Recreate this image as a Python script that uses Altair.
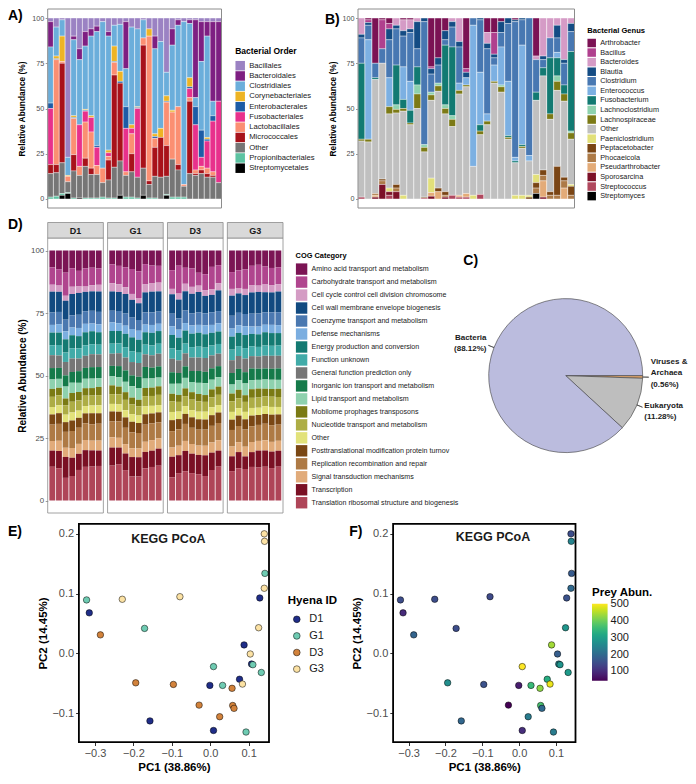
import math
import altair as alt
import pandas as pd

FONT = "Liberation Sans"
TICK_GREY = "#4D4D4D"

# ---------------- Panel A : Bacterial Order ----------------
a_samples = [f"A{i:02d}" for i in range(1, 31)]
a_orders = ["Bacillales", "Bacteroidales", "Clostridiales", "Corynebacteriales", "Enterobacterales",
            "Fusobacteriales", "Lactobacillales", "Micrococcales", "Other", "Propionibacteriales",
            "Streptomycetales"]
a_colors = ["#9B82C3", "#7E1F82", "#6BAEDB", "#EDB425", "#1D5CA6", "#E8318C",
            "#FB8F72", "#A8121A", "#767676", "#5DC3A2", "#000000"]
a_bacillales = [2, 5, 1, 77, 10, 17, 7.5, 6, 4.5, 2, 7.5, 4, 3.5, 2, 5, 6, 1, 6, 10, 13, 30, 6, 1, 2, 1, 1, 2, 2, 2, 2]
a_bacteroidales = [14, 0, 0, 0, 2, 6, 8, 4, 3, 0, 2.5, 0, 0, 26, 0, 0, 0, 0, 7, 0, 0, 9, 3, 0, 2, 43, 22, 8, 44, 44]
a_clostridiales = [31, 16, 9, 10, 42, 36, 35, 44, 63, 81, 63, 11.5, 26, 21, 54, 43, 10, 0, 47, 48, 13, 36, 45, 90, 30, 5, 38, 56, 8, 0]
a_coryne = [0, 1.5, 14, 0.5, 1, 0, 0.5, 1, 0, 0, 1.5, 8.5, 5.5, 0, 2, 0.5, 0, 4, 1.5, 5, 3, 1, 0, 0, 5, 0, 0, 1, 0, 0]
a_entero = [3, 0.5, 0, 0, 0.5, 0, 0.5, 0, 1, 0, 0, 0.5, 1, 12, 0, 0.5, 0, 0, 1, 0, 0.5, 0, 0, 0, 1, 10, 15, 1, 3, 0]
a_fuso = [31, 0, 0, 0, 0, 23, 6, 8, 10, 0, 2, 0, 0, 24, 3, 38, 0, 0, 0, 0, 0, 0, 0, 0, 5, 25, 5, 15, 28, 45]
a_lacto = [0, 58, 1, 3, 20, 5, 20, 20, 5, 8, 2, 7, 0, 2, 11, 0, 4, 80, 5, 0, 24, 26, 32, 1, 2, 2, 2, 3, 2, 0]
a_micro = [5, 4.5, 55, 0, 9, 0, 4.5, 3.5, 0, 0, 11, 51, 43, 0, 10, 0, 68, 2, 16, 22, 17, 0, 3, 0, 40, 1, 2, 2, 1, 0]
a_other = [13, 13, 17, 6, 15, 12.5, 17.5, 13, 13, 8, 10, 17, 19, 12, 14, 11.5, 15, 7.5, 12, 12, 10, 21, 15, 6, 14, 13, 14, 12, 12, 9]
a_propioni = [1, 1.5, 1, 0.5, 0.5, 0, 0.5, 0.5, 0.5, 1, 0.5, 0.5, 0, 1, 1, 0.5, 0, 0.5, 0.5, 0, 0.5, 1, 1, 1, 0, 0, 0, 0, 0, 0]
a_strepto = [0, 0, 2, 3, 0, 0.5, 0, 0, 0, 0, 0, 0, 2, 0, 0, 0, 2, 0, 0, 0, 2, 0, 0, 0, 0, 0, 0, 0, 0, 0]
a_series = [a_bacillales, a_bacteroidales, a_clostridiales, a_coryne, a_entero, a_fuso,
            a_lacto, a_micro, a_other, a_propioni, a_strepto]

# ---------------- Panel B : Bacterial Genus ----------------
b_samples = [f"B{i:02d}" for i in range(1, 32)]
b_genera = ["Arthrobacter", "Bacillus", "Bacteroides", "Blautia", "Clostridium", "Enterococcus",
            "Fusobacterium", "Lachnoclostridium", "Lachnospiraceae", "Other", "Paeniclostridium",
            "Peptacetobacter", "Phocaeicola", "Pseudarthrobacter", "Sporosarcina", "Streptococcus",
            "Streptomyces"]
b_colors = ["#7B1254", "#B0408E", "#D59BC6", "#144C84", "#4878B2", "#7CB0E2", "#127A72",
            "#8ED2AE", "#7C7A16", "#C0C0C0", "#E2E07A", "#7A4514", "#AD7A47", "#E3AB78",
            "#7C1128", "#B0485E", "#000000"]
b_arthro = [0, 1, 25, 1, 3, 0, 1, 1, 0, 0, 27, 22, 7, 0, 0, 28, 0, 0, 8, 8, 2, 0, 1, 0, 0, 21, 0, 0, 0, 0, 0]
b_bacillus = [0, 1.5, 0, 16, 3, 0, 0, 0, 0, 0, 1, 0, 0, 0, 0, 2, 0, 0, 0, 12, 0, 0, 0, 0, 0, 0, 0, 0, 0, 0, 0]
b_bacteroides = [9, 0, 0, 0, 0, 4, 6, 5, 2, 0, 0, 0, 0, 2, 13, 0, 0, 0, 6, 0, 0, 0, 0, 0, 0, 2, 21, 11, 4, 23, 3]
b_blautia = [2, 1.5, 0, 0, 6, 2, 3, 2, 15, 2, 3, 4, 5, 3, 3, 3, 0, 1, 3, 2, 6, 3, 1, 1, 0, 0, 2, 0, 7, 2, 4.5]
b_clostridium = [14, 8, 8, 8, 21, 20, 17, 27, 10, 68, 10, 10, 3, 11, 20, 0, 4, 29, 36, 4, 8, 32, 75, 14, 76, 18, 4.5, 11, 8, 12, 11]
b_enterococcus = [0, 55, 0, 0, 16, 0, 18, 16, 0, 0, 0, 0, 0, 0, 4, 4, 78, 29, 4, 9, 21, 30, 2, 55, 3, 0, 0, 0, 3, 0, 0]
b_fusobacterium = [42, 0, 1, 0, 0, 22, 5, 7, 10, 0, 0, 0, 33, 38, 0, 0, 0, 3.5, 0, 0, 0, 1, 1, 1, 0, 4.5, 4.5, 31, 10, 5, 44]
b_lachnoclost = [0, 0, 0, 0, 0, 2.5, 0, 0, 5, 1.5, 1.5, 1.5, 2, 2, 0, 0, 0, 0, 0, 0, 1, 0, 0, 0, 0, 0, 0, 0, 3, 0, 1]
b_lachnosp = [1, 1.5, 0, 0, 4, 2, 1.5, 1, 8, 2.5, 3, 3, 3, 4, 2, 1, 0, 2, 2, 1, 3, 1, 0, 1, 0, 0, 0, 3, 5, 4, 3.5]
b_other = [31, 31.5, 63, 64, 41, 39.5, 46.5, 41, 50, 25, 43, 53.5, 43, 38, 56, 59, 16, 33, 41, 64, 59, 33, 18, 26, 19, 41, 52, 40, 42, 42, 25]
b_paeni = [0, 0, 0, 0, 2, 0, 2, 0, 0, 0, 8, 0, 0, 0, 0, 0, 2, 0, 0, 0, 0, 0, 2, 2, 1, 4.5, 0, 0, 0, 0, 1]
b_peptac = [0, 0, 0, 1, 0, 2, 0, 0, 0, 0.5, 0, 2, 2, 0, 0, 0, 0, 0, 0, 0, 0, 0, 0, 0, 1, 3, 3, 2, 16, 2, 5]
b_phocae = [0, 0, 1, 2, 0, 2, 0, 0, 0, 0, 0, 0, 1, 0, 0, 0, 0, 0, 0, 0, 0, 0, 0, 0, 0, 3, 3, 2, 2, 4, 2]
b_pseudar = [0, 0, 1, 0, 0, 0, 0, 0, 0, 0, 2, 4, 0, 0, 1, 2, 0, 0, 0, 0, 0, 0, 0, 0, 0, 0, 9, 0, 0, 6, 0]
b_sporos = [0, 0, 1, 8, 2, 4, 0, 0, 0, 0, 1.5, 0, 1, 0, 0, 0, 0, 0, 0, 0, 0, 0, 0, 0, 0, 0, 1, 0, 0, 0, 0]
b_streptoc = [1, 0, 0, 0, 2, 0, 0, 0, 0, 0.5, 0, 0, 0, 2, 1, 1, 0, 2.5, 0, 0, 0, 0, 0, 0, 0, 0, 0, 0, 0, 0, 0]
b_streptom = [0, 0, 0, 0, 0, 0, 0, 0, 0, 0, 0, 0, 0, 0, 0, 0, 0, 0, 0, 0, 0, 0, 0, 0, 0, 3, 0, 0, 0, 0, 0]
b_series = [b_arthro, b_bacillus, b_bacteroides, b_blautia, b_clostridium, b_enterococcus,
            b_fusobacterium, b_lachnoclost, b_lachnosp, b_other, b_paeni, b_peptac, b_phocae,
            b_pseudar, b_sporos, b_streptoc, b_streptom]

# ---------------- Panel D : COG categories ----------------
d_groups = ["D1", "G1", "D3", "G3"]
d_samples = [f"{g}-{j}" for g in d_groups for j in range(1, 9)]
cog_names = ["Amino acid transport and metabolism", "Carbohydrate transport and metabolism",
             "Cell cycle control  cell division  chromosome", "Cell wall membrane envelope biogenesis",
             "Coenzyme transport and metabolism", "Defense mechanisms", "Energy production and conversion",
             "Function unknown", "General function prediction only", "Inorganic ion transport and metabolism",
             "Lipid transport and metabolism", "Mobilome  prophages  transposons",
             "Nucleotide transport and metabolism", "Other", "Posttranslational modification  protein turnov",
             "Replication  recombination and repair", "Signal transduction mechanisms", "Transcription",
             "Translation  ribosomal structure and biogenesis"]
cog_colors = ["#7B1454", "#B0458E", "#D49CC4", "#124A80", "#4A78B0", "#7BAEE0", "#147A72", "#41ABA8",
              "#767676", "#157A4A", "#8ED1AE", "#7A7A14", "#ADAD45", "#E2E27A", "#7A4714", "#AE7A45",
              "#E1AB7A", "#7A1024", "#AF4558"]
cog_amino = [6.8, 7.5, 8.9, 7.0, 8.2, 7.4, 6.9, 7.2, 5.7, 6.3, 6.8, 7.5, 8.4, 5.5, 6.1, 6.3, 7.7, 6.1, 6.9, 7.2, 8.8, 9.4, 6.6, 5.9, 8.6, 8.0, 7.4, 6.2, 5.9, 6.6, 7.0, 6.8]
cog_carb = [7.0, 6.6, 9.3, 7.3, 6.3, 7.5, 7.0, 6.6, 7.7, 7.5, 8.1, 10.1, 10.9, 8.2, 7.1, 6.9, 7.3, 11.2, 6.4, 7.4, 5.1, 6.3, 9.1, 7.3, 6.7, 7.1, 7.6, 7.8, 8.6, 7.4, 7.0, 6.8]
cog_cellcyc = [2.8, 2.5, 2.0, 2.9, 2.6, 2.2, 2.5, 2.7, 3.4, 3.2, 2.7, 2.4, 2.1, 3.2, 3.5, 3.6, 2.1, 2.4, 3.0, 2.8, 2.5, 2.3, 2.2, 2.8, 2.7, 2.2, 2.4, 3.0, 2.6, 3.2, 2.8, 2.9]
cog_cellwall = [8.4, 8.1, 7.6, 8.3, 8.8, 8.0, 7.8, 8.2, 7.9, 7.8, 7.9, 7.2, 6.8, 8.1, 8.4, 8.3, 7.6, 7.5, 7.7, 7.9, 8.1, 6.9, 7.0, 8.3, 8.0, 7.8, 7.4, 8.6, 8.9, 8.2, 8.0, 8.3]
cog_coenz = [5.0, 4.9, 4.7, 4.9, 5.3, 5.2, 5.1, 5.0, 4.8, 5.0, 4.9, 4.6, 4.4, 4.9, 5.1, 5.0, 4.9, 4.6, 5.0, 4.8, 4.9, 4.8, 5.1, 4.9, 5.1, 5.0, 4.8, 5.2, 5.4, 5.1, 5.0, 5.2]
cog_defense = [3.1, 3.4, 3.2, 3.0, 3.3, 3.5, 3.1, 3.2, 3.5, 3.2, 3.3, 3.4, 3.6, 3.1, 3.2, 3.0, 3.4, 3.2, 3.0, 3.3, 3.1, 3.5, 3.2, 3.3, 3.2, 3.1, 3.4, 3.0, 3.2, 3.1, 3.3, 3.2]
cog_energy = [5.1, 5.0, 5.3, 5.2, 4.9, 5.4, 5.2, 5.0, 5.2, 5.1, 5.4, 5.6, 5.3, 5.0, 5.1, 5.2, 5.3, 5.0, 5.2, 5.4, 5.5, 5.3, 5.1, 5.0, 5.2, 5.3, 5.1, 5.0, 5.2, 5.4, 5.1, 5.0]
cog_funcunk = [4.0, 4.2, 3.8, 4.0, 4.1, 4.3, 4.0, 3.9, 4.1, 4.0, 4.2, 4.4, 4.2, 3.9, 4.0, 4.1, 4.0, 4.1, 3.9, 4.2, 4.3, 4.1, 4.0, 3.9, 4.2, 4.0, 4.1, 4.0, 3.9, 4.2, 4.0, 4.1]
cog_general = [5.2, 5.0, 5.4, 5.3, 5.1, 5.0, 5.2, 5.1, 5.0, 5.3, 5.2, 5.4, 5.6, 5.1, 5.0, 5.2, 5.3, 5.1, 5.2, 5.4, 5.3, 5.5, 5.2, 5.0, 5.1, 5.2, 5.3, 5.0, 5.1, 5.3, 5.2, 5.1]
cog_inorg = [4.6, 4.4, 4.5, 4.3, 4.7, 4.5, 4.6, 4.4, 4.3, 4.5, 4.6, 4.4, 4.5, 4.7, 4.4, 4.6, 4.5, 4.3, 4.6, 4.4, 4.7, 4.5, 4.6, 4.4, 4.6, 4.5, 4.4, 4.7, 4.6, 4.5, 4.4, 4.6]
cog_lipid = [3.8, 3.6, 4.8, 4.0, 3.7, 3.9, 3.8, 3.6, 3.7, 3.9, 4.2, 4.6, 4.8, 3.8, 3.7, 3.6, 3.9, 4.5, 4.2, 4.1, 4.4, 4.7, 3.9, 3.8, 3.6, 3.9, 4.6, 3.7, 3.6, 3.8, 3.7, 3.6]
cog_mobil = [3.2, 3.0, 2.7, 3.5, 3.4, 3.1, 3.0, 3.3, 3.6, 3.2, 3.1, 2.8, 2.6, 3.3, 3.4, 3.5, 3.0, 2.8, 3.1, 3.0, 2.9, 2.7, 3.2, 3.3, 3.1, 3.4, 2.6, 3.5, 3.7, 3.2, 3.1, 3.3]
cog_nucl = [4.1, 4.0, 3.8, 4.2, 4.1, 4.3, 4.0, 4.1, 4.0, 4.1, 4.2, 3.9, 3.8, 4.1, 4.0, 4.2, 4.1, 3.9, 4.0, 4.2, 4.1, 3.9, 4.0, 4.1, 4.2, 4.0, 3.9, 4.1, 4.2, 4.0, 4.1, 4.0]
cog_other = [3.0, 3.2, 3.0, 3.1, 2.9, 3.0, 3.1, 3.2, 3.1, 3.0, 2.9, 3.1, 3.0, 3.2, 3.1, 3.0, 3.2, 3.0, 3.1, 2.9, 3.0, 3.1, 3.2, 3.0, 3.1, 3.0, 2.9, 3.1, 3.0, 3.2, 3.1, 3.0]
cog_postt = [4.1, 4.3, 3.9, 4.2, 4.0, 4.1, 4.4, 4.2, 4.1, 4.0, 4.2, 4.3, 4.1, 4.2, 4.0, 4.1, 4.3, 4.1, 4.0, 4.2, 4.1, 4.0, 4.3, 4.2, 4.1, 4.2, 4.0, 4.3, 4.1, 4.0, 4.2, 4.1]
cog_repl = [6.6, 6.8, 6.4, 6.7, 6.5, 6.9, 6.6, 6.8, 6.5, 6.7, 6.6, 6.4, 6.3, 6.9, 6.8, 6.6, 6.4, 6.6, 6.8, 6.5, 6.3, 6.4, 6.7, 6.9, 6.6, 6.5, 6.7, 6.4, 6.6, 6.8, 6.7, 6.5]
cog_signal = [3.9, 4.1, 3.7, 3.8, 4.0, 4.2, 3.9, 4.0, 4.2, 4.0, 3.8, 3.6, 3.5, 4.1, 4.3, 4.2, 3.6, 3.8, 4.0, 3.9, 3.7, 3.8, 4.1, 4.2, 3.9, 4.0, 3.8, 4.1, 4.0, 4.2, 3.9, 4.0]
cog_transc = [6.5, 6.9, 8.4, 7.2, 6.5, 6.9, 6.5, 6.2, 7.4, 6.8, 6.7, 7.9, 7.9, 6.6, 6.6, 7.0, 8.0, 7.2, 8.1, 7.8, 7.6, 8.2, 7.0, 6.4, 5.9, 6.5, 4.9, 6.0, 7.0, 6.6, 6.6, 6.4]
cog_transl = [13.6, 13.0, 9.1, 9.7, 12.3, 13.9, 13.6, 13.9, 14.3, 14.9, 12.3, 9.7, 9.7, 13.0, 13.6, 14.3, 9.1, 11.0, 11.7, 11.0, 10.4, 9.7, 12.3, 13.6, 11.7, 13.0, 12.3, 13.6, 13.6, 13.9, 13.0, 13.6]
cog_series = [cog_amino, cog_carb, cog_cellcyc, cog_cellwall, cog_coenz, cog_defense, cog_energy,
              cog_funcunk, cog_general, cog_inorg, cog_lipid, cog_mobil, cog_nucl, cog_other,
              cog_postt, cog_repl, cog_signal, cog_transc, cog_transl]

# ---------------- Panel C : pie ----------------
pie_names = ["Viruses & Archaea", "Eukaryota", "Bacteria"]
pie_values = [0.56, 11.28, 88.12]
pie_labels = ["Viruses &\nArchaea\n(0.56%)", "Eukaryota\n(11.28%)", "Bacteria\n(88.12%)"]
pie_aligns = ["left", "left", "right"]
pie_label_dy = [-15.3, -2.1, -7.1]
pie_colors = ["#E0A66E", "#BEBEBE", "#BBBCDE"]

# ---------------- Panels E / F : KEGG PCoA ----------------
pc1 = [-0.322, -0.315, -0.286, -0.229, -0.171, -0.194, -0.157, -0.096, -0.079, -0.029, -0.001, 0.0085,
       0.0085, 0.0246, 0.0322, 0.0568, 0.0585, 0.0619, 0.0763, 0.0839, 0.0881, 0.0932, 0.1042, 0.1076,
       0.111, 0.133, 0.126, 0.129, 0.1407, 0.1424, 0.1415, 0.1407]
pc2 = [0.0893, 0.0677, 0.0309, 0.0904, 0.0417, -0.0493, -0.113, -0.052, 0.0947, -0.0866, -0.0536, -0.0222,
       -0.129, -0.106, -0.0536, -0.0585, -0.0872, -0.092, -0.0433, -0.0514, 0.0141, -0.1316, -0.0011, -0.0179,
       -0.019, -0.032, 0.0428, 0.0926, 0.1088, 0.1337, 0.1873, 0.1998]
hyena = ["G1", "D1", "D3", "G3", "G1", "D3", "D1", "D3", "G3", "D3", "D1", "G1", "D1", "D3", "G1", "D3",
         "D3", "D3", "D1", "G3", "D1", "G1", "G3", "D1", "G1", "G1", "G3", "D1", "G3", "G1", "G3", "G3"]
prey = [150, 100, 190, 150, 150, 270, 195, 160, 145, 45, 80, 503, 105, 235, 355, 425,
        370, 200, 330, 490, 440, 235, 180, 250, 280, 295, 285, 160, 200, 175, 250, 150]
hyena_ids = ["D1", "G1", "D3", "G3"]
hyena_colors = ["#1F2D88", "#6ECBB2", "#D2823B", "#FCE2A4"]

# ================= layout (pixels inside one 680 x 768 canvas) =================
W, H = 680, 768
A_X0, A_X1 = 39.7, 213.5
B_X0, B_X1 = 350.0, 566.5
AB_TOP, AB_BOT = 1.0, 200.0
D_X0, D_X1 = 39.7, 275.0
D_TOP, D_BOT = 230.0, 505.0
STRIP_TOP = 214.5
PIE_X, PIE_Y, PIE_R = 557.7, 367.6, 77
E_X0, E_X1 = 70.9, 261.0
F_X0, F_X1 = 385.1, 567.5
EF_TOP, EF_BOT = 515.8, 734.2


# ================= helpers =================
def long_table(samples, names, series, field):
    rows = []
    for rank, (name, vals) in enumerate(zip(names, series)):
        for si, (s, v) in enumerate(zip(samples, vals)):
            if v > 0:
                rows.append({"sample": s, "si": si, field: name, "rank": rank, "value": v})
    return pd.DataFrame(rows)


def rel_scale(top, bot):
    return alt.Scale(domain=[-0.05, 1.05], range=[bot, top], nice=False, zero=False)


def rel_axis(label_size, title_size, title_pad, x_left):
    return alt.Axis(orient="left", offset=-x_left, values=[0, 0.25, 0.5, 0.75, 1],
                    labelExpr="format(datum.value * 100, 'd')",
                    labelFont=FONT, labelFontSize=label_size, labelColor=TICK_GREY, labelPadding=1.5,
                    tickColor="#555555", tickSize=2.5, tickWidth=0.6, domain=False, grid=False,
                    title="Relative Abundance (%)", titleFont=FONT, titleFontSize=title_size,
                    titleFontWeight="bold", titleColor="black", titlePadding=title_pad)


def text_at(txt, x, y, size=14, align="left", baseline="top", weight="bold", color="black"):
    return alt.Chart(pd.DataFrame({"t": [txt]})).mark_text(
        font=FONT, fontSize=size, fontWeight=weight, align=align, baseline=baseline, color=color
    ).encode(x=alt.value(x), y=alt.value(y), text="t:N")


def frame(x0, x1, y0, y1, color, width):
    return alt.Chart(pd.DataFrame({"f": [0]})).mark_rect(
        fill="transparent", stroke=color, strokeWidth=width
    ).encode(x=alt.value(x0), x2=alt.value(x1), y=alt.value(y0), y2=alt.value(y1))


def sym_legend(title, lx, ly, title_size, label_size, sym, row_pad, title_pad):
    return alt.Legend(title=title, orient="none", legendX=lx, legendY=ly, direction="vertical",
                      titleFont=FONT, titleFontSize=title_size, titleFontWeight="bold", titleColor="black",
                      titlePadding=title_pad, labelFont=FONT, labelFontSize=label_size, labelColor="#1A1A1A",
                      labelOffset=4, labelLimit=240, symbolType="square", symbolSize=sym,
                      symbolStrokeWidth=0, symbolOpacity=1, rowPadding=row_pad)


def stacked_bars(df, samples, field, names, colors, legend, axis, x0, x1, top, bot):
    return alt.Chart(df).transform_stack(
        as_=["y0", "y1"], stack="value", groupby=["sample"], offset="normalize",
        sort=[alt.SortField("rank", order="descending")],
    ).mark_bar(stroke="white", strokeWidth=0.35).encode(
        x=alt.X("sample:N", sort=samples, axis=None,
                scale=alt.Scale(range=[x0, x1], paddingInner=0.04, paddingOuter=0)),
        y=alt.Y("y0:Q", scale=rel_scale(top, bot), axis=axis),
        y2="y1:Q",
        color=alt.Color(f"{field}:N", scale=alt.Scale(domain=names, range=colors), legend=legend),
    )


layers = []

# ================= A =================
a_df = long_table(a_samples, a_orders, a_series, "order")
layers.append(stacked_bars(a_df, a_samples, "order", a_orders, a_colors,
                           sym_legend("Bacterial Order", 227.2, 39.4, 8.5, 7.7, 90, 0.25, 4.8),
                           rel_axis(7.2, 8.4, 5, A_X0), A_X0, A_X1, AB_TOP, AB_BOT))
layers.append(frame(A_X0, A_X1, AB_TOP, AB_BOT, "#8C8C8C", 1))
layers.append(text_at("A)", 0, 1))

# ================= B =================
b_df = long_table(b_samples, b_genera, b_series, "genus")
layers.append(stacked_bars(b_df, b_samples, "genus", b_genera, b_colors,
                           sym_legend("Bacterial Genus", 579.2, 19.0, 7.6, 7.3, 72, 0.57, 3.9),
                           rel_axis(7.2, 8.4, 5, B_X0), B_X0, B_X1, AB_TOP, AB_BOT))
layers.append(frame(B_X0, B_X1, AB_TOP, AB_BOT, "#8C8C8C", 1))
layers.append(text_at("B)", 317, 4.5))

# ================= D =================
PANEL_U, GAP_U = 8.4, 0.64
XMAX = 4 * PANEL_U + 3 * GAP_U


def d_xscale():
    return alt.Scale(domain=[0, XMAX], range=[D_X0, D_X1], nice=False, zero=False)


d_df = long_table(d_samples, cog_names, cog_series, "cog")
layers.append(alt.Chart(d_df).transform_stack(
    as_=["y0", "y1"], stack="value", groupby=["sample"], offset="normalize",
    sort=[alt.SortField("rank", order="descending")],
).transform_calculate(
    x0=f"floor(datum.si / 8) * {PANEL_U + GAP_U} + (datum.si % 8) + 0.26"
).transform_calculate(
    x1="datum.x0 + 0.88"
).mark_bar().encode(
    x=alt.X("x0:Q", scale=d_xscale(), axis=None),
    x2="x1:Q",
    y=alt.Y("y0:Q", scale=rel_scale(D_TOP, D_BOT), axis=rel_axis(7.9, 10, 3.5, D_X0)),
    y2="y1:Q",
    color=alt.Color("cog:N", scale=alt.Scale(domain=cog_names, range=cog_colors),
                    legend=sym_legend("COG Category", 287.6, 243.8, 7.4, 7.1, 130, 0.98, 3.9)),
))

grp_df = pd.DataFrame({"grp": d_groups, "gi": list(range(len(d_groups)))})
grp_base = alt.Chart(grp_df).transform_calculate(
    start=f"datum.gi * {PANEL_U + GAP_U}"
).transform_calculate(
    end=f"datum.start + {PANEL_U}"
).transform_calculate(
    mid=f"datum.start + {PANEL_U / 2}"
)
layers.append(grp_base.mark_rect(fill="transparent", stroke="#8C8C8C", strokeWidth=0.8).encode(
    x=alt.X("start:Q", scale=d_xscale(), axis=None), x2="end:Q",
    y=alt.value(D_TOP), y2=alt.value(D_BOT)))
layers.append(grp_base.mark_rect(fill="#D9D9D9", stroke="#8C8C8C", strokeWidth=0.8).encode(
    x=alt.X("start:Q", scale=d_xscale(), axis=None), x2="end:Q",
    y=alt.value(STRIP_TOP), y2=alt.value(D_TOP)))
layers.append(grp_base.mark_text(font=FONT, fontSize=9, fontWeight="bold", color="#1A1A1A",
                                 baseline="middle").encode(
    x=alt.X("mid:Q", scale=d_xscale(), axis=None), y=alt.value((STRIP_TOP + D_TOP) / 2 + 0.5),
    text="grp:N"))
layers.append(text_at("D)", 0, 210))

# ================= C (pie) =================
pie_df = pd.DataFrame({"kingdom": pie_names, "value": pie_values, "ord": list(range(len(pie_names))),
                       "label": pie_labels})


def theta_scale():
    return alt.Scale(domain=[0, sum(pie_values)], range=[math.pi / 2, math.pi / 2 + 2 * math.pi])


pie_base = alt.Chart(pie_df).transform_stack(
    as_=["t0", "t1"], stack="value", groupby=[], sort=[alt.SortField("ord", order="ascending")])
layers.append(pie_base.mark_arc(radius=PIE_R, stroke="#3A3A3A", strokeWidth=0.6).encode(
    theta=alt.Theta("t0:Q", scale=theta_scale(), stack=False), theta2="t1:Q",
    fill=alt.Fill("kingdom:N", scale=alt.Scale(domain=pie_names, range=pie_colors), legend=None),
    x=alt.value(PIE_X), y=alt.value(PIE_Y)))
pie_mid = pie_base.transform_calculate(mid="(datum.t0 + datum.t1) / 2").transform_calculate(
    mid2="datum.mid + 0.03")
# short leader lines (very thin radial wedges)
layers.append(pie_mid.mark_arc(radius=PIE_R + 6, radius2=PIE_R, stroke="#3A3A3A", strokeWidth=0.6,
                               fill="#3A3A3A").encode(
    theta=alt.Theta("mid:Q", scale=theta_scale(), stack=False), theta2="mid2:Q",
    x=alt.value(PIE_X), y=alt.value(PIE_Y)))
for name, align, dy in zip(pie_names, pie_aligns, pie_label_dy):
    layers.append(pie_mid.transform_filter(alt.datum.kingdom == name).mark_text(
        radius=PIE_R + 8, align=align, baseline="middle", dy=dy, lineBreak="\n", lineHeight=11.5,
        font=FONT, fontSize=8, fontWeight="bold", color="#1A1A1A").encode(
        theta=alt.Theta("mid:Q", scale=theta_scale(), stack=False),
        x=alt.value(PIE_X), y=alt.value(PIE_Y), text="label:N"))
layers.append(text_at("C)", 455.3, 246))

# ================= E / F =================
kegg_df = pd.DataFrame({"pc1": pc1, "pc2": pc2, "hyena": hyena, "prey": prey})


def kegg_axis(values, title, title_pad, orient, offset):
    return alt.Axis(orient=orient, offset=offset, values=values, format=".1f", labelFont=FONT,
                    labelFontSize=11, labelColor=TICK_GREY, labelPadding=2, tickColor="black",
                    tickSize=3.3, tickWidth=0.8, domain=False, grid=False, title=title, titleFont=FONT,
                    titleFontSize=11.5, titleFontWeight="bold", titleColor="black", titlePadding=title_pad)


def kegg_points(fill, x0, x1):
    return alt.Chart(kegg_df).mark_circle(size=42, stroke="black", strokeWidth=0.5, opacity=1,
                                           fillOpacity=1).encode(
        x=alt.X("pc1:Q", scale=alt.Scale(domain=[-0.342, 0.153], range=[x0, x1], nice=False, zero=False),
                axis=kegg_axis([-0.3, -0.2, -0.1, 0.0, 0.1], "PC1 (38.86%)", 2.5, "bottom", -(H - EF_BOT))),
        y=alt.Y("pc2:Q", scale=alt.Scale(domain=[-0.1486, 0.2166], range=[EF_BOT, EF_TOP], nice=False,
                                         zero=False),
                axis=kegg_axis([-0.1, 0.0, 0.1, 0.2], "PC2 (14.45%)", 3.5, "left", -x0)),
        fill=fill,
    )


e_fill = alt.Fill("hyena:N", scale=alt.Scale(domain=hyena_ids, range=hyena_colors),
                  legend=alt.Legend(title="Hyena ID", orient="none", legendX=279.8, legendY=587,
                                    direction="vertical", titleFont=FONT, titleFontSize=11.5,
                                    titleFontWeight="bold", titleColor="black", titlePadding=7.3,
                                    labelFont=FONT, labelFontSize=11, labelColor="#1A1A1A", labelOffset=7,
                                    symbolType="circle", symbolSize=45, symbolStrokeColor="black",
                                    symbolStrokeWidth=0.5, symbolOffset=3.5, rowPadding=4.6))
f_fill = alt.Fill("prey:Q", scale=alt.Scale(scheme="viridis", zero=False, nice=False),
                  legend=alt.Legend(title="Prey Abun.", orient="none", legendX=584, legendY=579,
                                    direction="vertical", gradientLength=77, gradientThickness=15.6,
                                    gradientStrokeWidth=0, values=[100, 200, 300, 400, 500],
                                    titleFont=FONT, titleFontSize=11.5, titleFontWeight="bold",
                                    titleColor="black", titlePadding=5.2, labelFont=FONT, labelFontSize=11,
                                    labelColor="#1A1A1A", labelOffset=3))

layers.append(kegg_points(e_fill, E_X0, E_X1))
layers.append(frame(E_X0, E_X1, EF_TOP, EF_BOT, "black", 1.8))
layers.append(text_at("KEGG PCoA", 160.4, 531.4, size=12.5, align="center", baseline="middle", color="#1A1A1A"))
layers.append(text_at("E)", 0, 517))

layers.append(kegg_points(f_fill, F_X0, F_X1))
layers.append(frame(F_X0, F_X1, EF_TOP, EF_BOT, "black", 1.8))
layers.append(text_at("KEGG PCoA", 485.0, 529.4, size=12.5, align="center", baseline="middle", color="#1A1A1A"))
layers.append(text_at("F)", 341.3, 517))

chart = alt.layer(*layers).resolve_scale(
    x="independent", y="independent", color="independent", fill="independent", theta="independent"
).resolve_axis(x="independent", y="independent").resolve_legend(
    color="independent", fill="independent"
).properties(
    width=W, height=H, padding=0, autosize=alt.AutoSizeParams(type="none"),
    view=alt.ViewBackground(stroke="transparent"),
).configure(font=FONT)

chart.save("out.html", embed_options={"renderer": "svg", "actions": False})
